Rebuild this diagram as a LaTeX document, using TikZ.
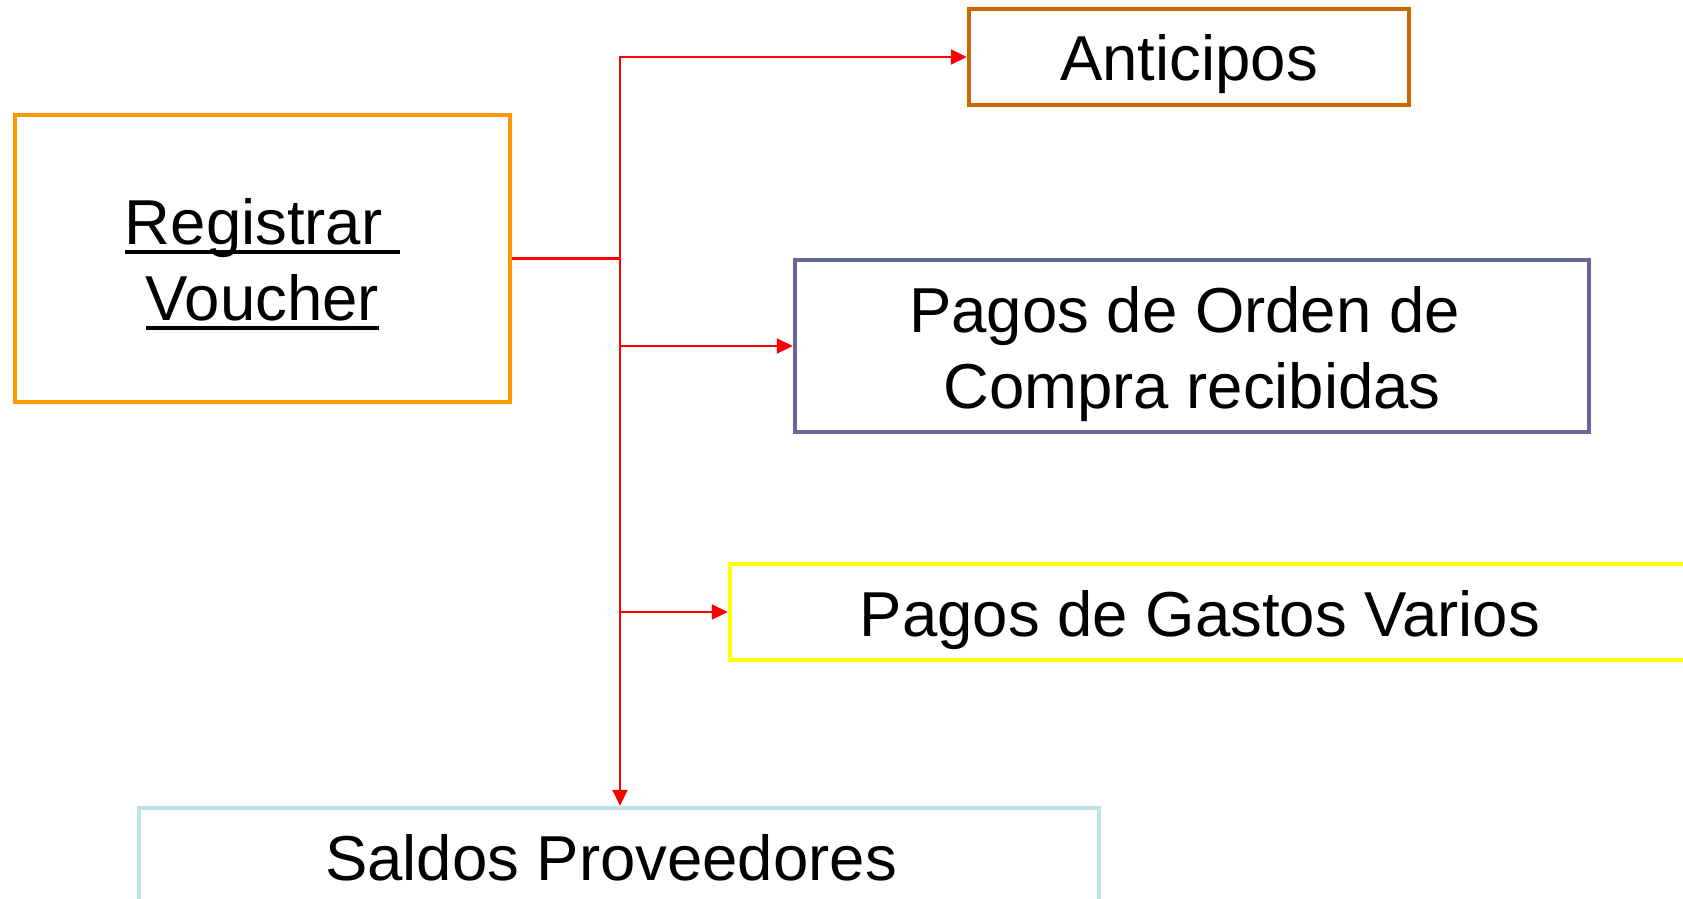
\documentclass[tikz,border=0pt]{standalone}
\usepackage{fontspec}
\setmainfont{Liberation Sans}
\usetikzlibrary{arrows.meta}
\definecolor{cOrange}{HTML}{FF9900}
\definecolor{cBrown}{HTML}{CC6600}
\definecolor{cPurple}{HTML}{666699}
\definecolor{cYellow}{HTML}{FFFF00}
\definecolor{cCyan}{HTML}{BDE3E4}
\definecolor{cRed}{HTML}{FF0000}
\newcommand\ulx[1]{\setbox0\hbox{#1}\rlap{\rule[-9pt]{\wd0}{3.5pt}}\box0}
\tikzset{
  boxnode/.style={draw, line width=4.5pt, inner sep=0pt, align=center,
    font=\fontsize{63.5}{76}\selectfont, text height=48pt, text depth=0pt},
  twoline/.style={text height=124pt, text depth=0pt},
  link/.style={draw=cRed, line width=2.2pt},
  arr/.style={link, -{Triangle[length=16pt,width=15pt]}}
}
\begin{document}
\begin{tikzpicture}[x=1pt,y=-1pt]
\useasboundingbox (0,0) rectangle (1683,899);
\node[boxnode, twoline, draw=cOrange, minimum width=495pt, minimum height=287pt] (reg) at (262.5,258.5) {\ulx{Registrar\ }\\\ulx{Voucher}};
\node[boxnode, draw=cBrown, minimum width=440pt, minimum height=96pt] (ant) at (1189,57) {Anticipos};
\node[boxnode, twoline, draw=cPurple, minimum width=794pt, minimum height=172pt] (pur) at (1192,346) {Pagos de Orden de\hspace*{15pt}\\Compra recibidas};
\node[boxnode, draw=cYellow, minimum width=1000pt, minimum height=96pt] (yel) at (1230,612) {\makebox[0pt]{Pagos de Gastos Varios}\hspace*{60pt}};
\node[boxnode, draw=cCyan, minimum width=960pt, minimum height=96pt] (sal) at (619,856) {Saldos Proveedores\hspace*{16pt}};
\coordinate (j) at (620,258.5);
\draw[link] (reg.east) -- (j);
\draw[arr] (j) |- (ant.west);
\draw[arr] (j |- pur.west) -- (pur.west);
\draw[arr] (j |- yel.west) -- (yel.west);
\draw[arr] (j) -- (j |- sal.north);
\end{tikzpicture}
\end{document}
